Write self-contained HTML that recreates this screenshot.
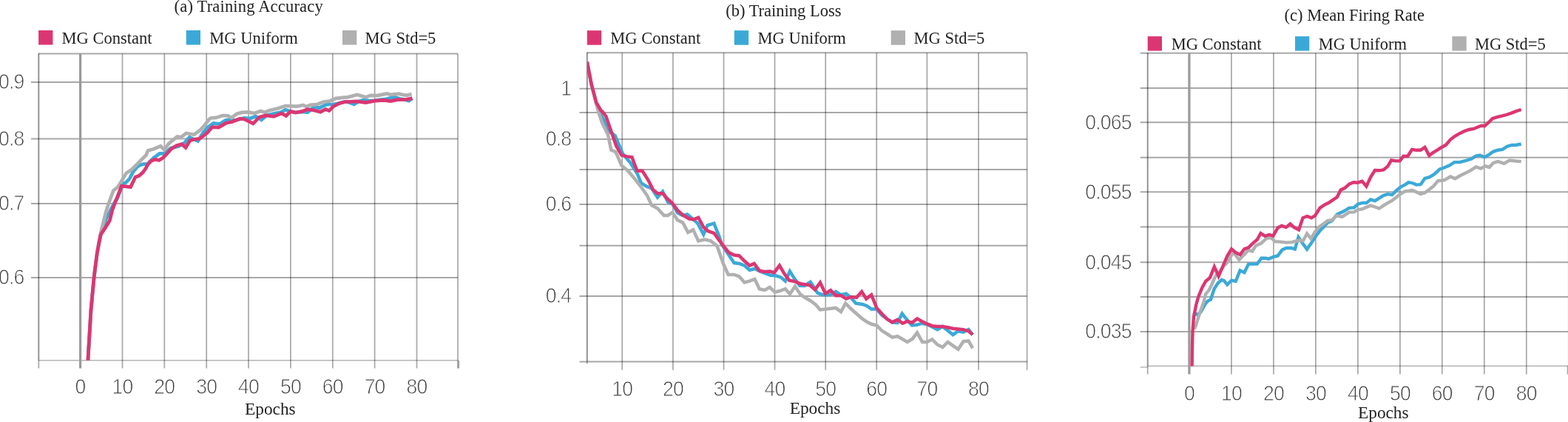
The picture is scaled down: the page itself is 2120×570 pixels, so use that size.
<!DOCTYPE html>
<html><head><meta charset="utf-8"><title>Training curves</title>
<style>
html,body{margin:0;padding:0;background:#fff;width:2120px;height:570px;overflow:hidden}
svg{display:block}
.tk{font-family:"Liberation Sans", sans-serif;font-size:30px;fill:#3c3c3c;letter-spacing:-0.9px;stroke:#fff;stroke-width:0.9px}
.ttl{font-family:"Liberation Serif", serif;font-size:22.5px;fill:#222}
.ep{font-family:"Liberation Serif", serif;font-size:23.3px;fill:#222}
.lg{font-family:"Liberation Serif", serif;font-size:22.5px;fill:#222}
</style></head><body>
<svg width="2120" height="570" viewBox="0 0 2120 570">
<defs><clipPath id="clip0"><rect x="52.3" y="52.400000000000006" width="566.7" height="434.4"/></clipPath><clipPath id="clip1"><rect x="793.8" y="51.2" width="594.8" height="437.40000000000003"/></clipPath><clipPath id="clip2"><rect x="1551.7" y="51.7" width="573.3" height="442.7"/></clipPath></defs>
<rect width="2120" height="570" fill="#fff"/>
<g>
<line x1="52.3" y1="72.4" x2="619.0" y2="72.4" stroke="rgba(0,0,0,0.34)" stroke-width="2"/>
<line x1="42.0" y1="110.9" x2="619.0" y2="110.9" stroke="rgba(0,0,0,0.34)" stroke-width="2"/>
<line x1="42.0" y1="187.5" x2="619.0" y2="187.5" stroke="rgba(0,0,0,0.34)" stroke-width="2"/>
<line x1="42.0" y1="275.0" x2="619.0" y2="275.0" stroke="rgba(0,0,0,0.34)" stroke-width="2"/>
<line x1="42.0" y1="375.0" x2="619.0" y2="375.0" stroke="rgba(0,0,0,0.34)" stroke-width="2"/>
<line x1="165.5" y1="72.4" x2="165.5" y2="497.5" stroke="rgba(0,0,0,0.33)" stroke-width="1.8"/>
<line x1="222.3" y1="72.4" x2="222.3" y2="497.5" stroke="rgba(0,0,0,0.33)" stroke-width="1.8"/>
<line x1="279.2" y1="72.4" x2="279.2" y2="497.5" stroke="rgba(0,0,0,0.33)" stroke-width="1.8"/>
<line x1="336.0" y1="72.4" x2="336.0" y2="497.5" stroke="rgba(0,0,0,0.33)" stroke-width="1.8"/>
<line x1="392.9" y1="72.4" x2="392.9" y2="497.5" stroke="rgba(0,0,0,0.33)" stroke-width="1.8"/>
<line x1="449.8" y1="72.4" x2="449.8" y2="497.5" stroke="rgba(0,0,0,0.33)" stroke-width="1.8"/>
<line x1="506.6" y1="72.4" x2="506.6" y2="497.5" stroke="rgba(0,0,0,0.33)" stroke-width="1.8"/>
<line x1="563.5" y1="72.4" x2="563.5" y2="497.5" stroke="rgba(0,0,0,0.33)" stroke-width="1.8"/>
<line x1="620.3" y1="486.8" x2="620.3" y2="497.5" stroke="rgba(0,0,0,0.33)" stroke-width="1.8"/>
<line x1="619.0" y1="72.4" x2="619.0" y2="497.5" stroke="rgba(0,0,0,0.33)" stroke-width="1.8"/>
<line x1="52.3" y1="486.8" x2="52.3" y2="497.5" stroke="rgba(0,0,0,0.33)" stroke-width="1.8"/>
<line x1="52.3" y1="486.8" x2="619.0" y2="486.8" stroke="rgba(0,0,0,0.29)" stroke-width="1.6"/>
<line x1="52.3" y1="71.9" x2="52.3" y2="486.8" stroke="rgba(0,0,0,0.44)" stroke-width="1.9"/>
<line x1="108.6" y1="72.4" x2="108.6" y2="497.5" stroke="#9a9a9a" stroke-width="3.2"/>
</g>
<polyline points="118.8,489.0 120.2,465.0 121.6,442.0 122.9,420.0 125.0,397.0 127.1,375.0 129.2,358.0 131.3,342.0 133.7,329.0 136.2,317.0 144.4,293.5 148.4,286.0 152.6,277.6 156.3,271.3 158.8,267.5 166.5,247.8 170.0,246.6 175.0,241.7 180.0,231.9 185.0,225.7 190.0,222.6 195.0,221.4 199.0,222.0 203.6,217.5 208.0,213.0 211.6,210.5 216.0,207.3 222.0,207.3 230.8,200.2 241.3,197.5 248.3,194.0 256.2,185.3 261.5,187.9 267.6,190.5 274.6,179.1 280.8,172.1 288.7,166.5 297.0,167.5 305.0,162.5 312.0,161.4 318.0,162.5 324.6,161.0 330.0,159.3 338.0,160.0 345.6,157.2 353.5,161.8 360.5,156.0 370.0,153.5 380.0,151.5 385.9,148.2 392.9,150.5 398.6,152.0 405.2,151.5 409.0,151.0 415.8,151.7 424.0,144.6 432.0,145.7 440.0,141.8 444.4,140.8 449.0,141.5 457.8,139.5 465.5,137.5 470.0,137.5 478.6,140.8 485.0,137.0 492.1,135.0 500.0,136.2 507.0,135.8 515.0,134.5 522.0,133.8 531.4,131.6 534.5,131.3 541.0,133.5 547.0,134.5 552.9,136.2 557.6,132.8" fill="none" stroke="#3ba9d7" stroke-width="4.7" stroke-linejoin="miter" stroke-miterlimit="3" stroke-linecap="butt" clip-path="url(#clip0)"/>
<polyline points="118.8,489.0 120.2,465.0 121.6,442.0 122.9,420.0 125.0,397.0 127.1,375.0 129.2,358.0 131.3,342.0 133.7,327.0 136.5,313.0 139.8,300.0 143.4,285.7 148.3,271.0 153.3,257.5 159.4,252.6 165.5,242.7 170.5,234.1 177.8,229.2 185.2,221.9 191.3,215.7 197.5,209.6 200.0,203.4 208.5,201.0 217.1,197.3 222.0,202.2 228.2,194.0 239.6,184.4 244.8,185.3 251.8,180.0 262.4,181.8 271.0,175.4 277.0,168.7 282.0,162.0 285.0,159.5 292.2,158.9 301.0,156.0 308.0,156.3 313.2,159.0 320.3,153.7 327.3,151.9 336.1,151.4 343.8,153.0 352.5,150.0 357.8,151.8 364.8,149.0 375.4,146.5 385.9,143.0 392.9,143.3 401.7,143.7 409.6,141.9 414.8,144.2 419.2,141.9 428.0,141.2 436.8,137.7 445.5,136.7 454.3,132.8 465.5,131.6 470.0,131.3 482.9,127.9 494.6,131.3 500.7,128.8 509.9,129.1 523.4,126.4 528.4,127.9 539.4,126.7 545.6,128.2 549.9,128.8 556.6,127.0" fill="none" stroke="#b0b0b0" stroke-width="4.7" stroke-linejoin="miter" stroke-miterlimit="3" stroke-linecap="butt" clip-path="url(#clip0)"/>
<polyline points="118.8,489.0 120.2,465.0 121.6,442.0 122.9,420.0 125.0,397.0 127.1,375.0 129.2,358.0 131.3,342.0 133.7,329.0 136.2,317.0 142.2,307.9 148.3,298.0 152.0,283.3 155.7,273.5 160.6,261.2 164.3,251.3 170.5,251.8 176.6,252.6 183.0,239.2 188.0,237.4 193.0,233.1 197.0,227.6 200.0,222.0 204.0,217.7 209.8,215.3 215.0,216.5 220.0,213.4 222.5,211.0 231.7,201.0 238.7,196.7 245.7,194.6 251.0,199.3 257.1,189.6 264.0,188.0 270.0,187.3 275.0,183.5 280.0,179.5 286.9,171.6 295.7,172.1 306.2,166.0 313.2,164.7 324.6,160.2 330.8,161.2 336.9,164.2 342.2,166.8 350.8,158.2 359.6,156.0 370.1,157.4 380.6,153.0 386.8,156.5 392.9,150.4 399.9,152.1 408.7,150.4 415.7,147.7 424.5,149.0 433.2,151.2 440.3,147.7 444.9,149.6 450.9,143.6 458.6,139.7 467.5,137.3 470.0,137.7 482.3,136.8 494.6,138.6 506.9,136.2 519.1,135.3 528.4,136.5 537.6,134.7 549.9,134.3 557.4,132.6" fill="none" stroke="#dc3672" stroke-width="4.7" stroke-linejoin="miter" stroke-miterlimit="3" stroke-linecap="butt" clip-path="url(#clip0)"/>
<text class="tk" transform="translate(32.5,120.2) scale(0.885,1)" text-anchor="end">0.9</text>
<text class="tk" transform="translate(32.5,196.8) scale(0.885,1)" text-anchor="end">0.8</text>
<text class="tk" transform="translate(32.5,284.3) scale(0.885,1)" text-anchor="end">0.7</text>
<text class="tk" transform="translate(32.5,384.3) scale(0.885,1)" text-anchor="end">0.6</text>
<text class="tk" transform="translate(108.6,531.8) scale(0.885,1)" text-anchor="middle">0</text>
<text class="tk" transform="translate(165.5,531.8) scale(0.885,1)" text-anchor="middle">10</text>
<text class="tk" transform="translate(222.3,531.8) scale(0.885,1)" text-anchor="middle">20</text>
<text class="tk" transform="translate(279.2,531.8) scale(0.885,1)" text-anchor="middle">30</text>
<text class="tk" transform="translate(336.0,531.8) scale(0.885,1)" text-anchor="middle">40</text>
<text class="tk" transform="translate(392.9,531.8) scale(0.885,1)" text-anchor="middle">50</text>
<text class="tk" transform="translate(449.8,531.8) scale(0.885,1)" text-anchor="middle">60</text>
<text class="tk" transform="translate(506.6,531.8) scale(0.885,1)" text-anchor="middle">70</text>
<text class="tk" transform="translate(563.5,531.8) scale(0.885,1)" text-anchor="middle">80</text>
<text class="ttl" x="235.6" y="15.8" style="letter-spacing:0.18px">(a) Training Accuracy</text>
<text class="ep" x="331.1" y="559.7">Epochs</text>
<rect x="52.1" y="41.0" width="19.3" height="19.5" fill="#dc3672"/>
<text class="lg" x="83.6" y="59.1">MG Constant</text>
<rect x="251.7" y="41.0" width="19.3" height="19.5" fill="#3ba9d7"/>
<text class="lg" x="283.3" y="59.1">MG Uniform</text>
<rect x="463.0" y="41.0" width="19.3" height="19.5" fill="#b0b0b0"/>
<text class="lg" x="493.5" y="59.1">MG Std=5</text>
<g>
<line x1="793.8" y1="71.2" x2="1388.6" y2="71.2" stroke="rgba(0,0,0,0.34)" stroke-width="2"/>
<line x1="783.5" y1="119.8" x2="1388.6" y2="119.8" stroke="rgba(0,0,0,0.34)" stroke-width="2"/>
<line x1="783.5" y1="152.0" x2="1388.6" y2="152.0" stroke="rgba(0,0,0,0.34)" stroke-width="2"/>
<line x1="783.5" y1="188.0" x2="1388.6" y2="188.0" stroke="rgba(0,0,0,0.34)" stroke-width="2"/>
<line x1="783.5" y1="228.9" x2="1388.6" y2="228.9" stroke="rgba(0,0,0,0.34)" stroke-width="2"/>
<line x1="783.5" y1="276.0" x2="1388.6" y2="276.0" stroke="rgba(0,0,0,0.34)" stroke-width="2"/>
<line x1="783.5" y1="331.8" x2="1388.6" y2="331.8" stroke="rgba(0,0,0,0.34)" stroke-width="2"/>
<line x1="783.5" y1="400.0" x2="1388.6" y2="400.0" stroke="rgba(0,0,0,0.34)" stroke-width="2"/>
<line x1="841.2" y1="71.2" x2="841.2" y2="499.8" stroke="rgba(0,0,0,0.33)" stroke-width="1.8"/>
<line x1="909.9" y1="71.2" x2="909.9" y2="499.8" stroke="rgba(0,0,0,0.33)" stroke-width="1.8"/>
<line x1="978.5" y1="71.2" x2="978.5" y2="499.8" stroke="rgba(0,0,0,0.33)" stroke-width="1.8"/>
<line x1="1047.5" y1="71.2" x2="1047.5" y2="499.8" stroke="rgba(0,0,0,0.33)" stroke-width="1.8"/>
<line x1="1116.2" y1="71.2" x2="1116.2" y2="499.8" stroke="rgba(0,0,0,0.33)" stroke-width="1.8"/>
<line x1="1185.2" y1="71.2" x2="1185.2" y2="499.8" stroke="rgba(0,0,0,0.33)" stroke-width="1.8"/>
<line x1="1253.4" y1="71.2" x2="1253.4" y2="499.8" stroke="rgba(0,0,0,0.33)" stroke-width="1.8"/>
<line x1="1323.0" y1="71.2" x2="1323.0" y2="499.8" stroke="rgba(0,0,0,0.33)" stroke-width="1.8"/>
<line x1="1388.6" y1="71.2" x2="1388.6" y2="499.8" stroke="rgba(0,0,0,0.33)" stroke-width="1.8"/>
<line x1="793.8" y1="488.6" x2="793.8" y2="491.5" stroke="rgba(0,0,0,0.33)" stroke-width="1.8"/>
<line x1="783.5" y1="488.6" x2="793.8" y2="488.6" stroke="rgba(0,0,0,0.35)" stroke-width="2"/>
<line x1="793.8" y1="488.6" x2="1388.6" y2="488.6" stroke="rgba(0,0,0,0.35)" stroke-width="2"/>
<line x1="793.8" y1="70.7" x2="793.8" y2="488.6" stroke="rgba(0,0,0,0.44)" stroke-width="1.9"/>
</g>
<polyline points="793.8,84.0 799.6,114.0 806.0,139.0 810.0,150.0 816.3,162.0 822.0,176.3 831.6,183.3 842.1,207.9 852.6,220.2 861.4,234.2 867.0,247.3 874.0,251.7 881.0,254.3 889.0,266.6 896.0,258.7 903.0,272.7 909.1,275.4 916.1,287.6 923.2,291.1 929.3,289.4 935.4,294.6 943.3,301.7 951.2,316.6 956.5,304.3 965.3,301.7 972.3,319.2 975.8,330.0 985.4,344.6 992.5,355.1 999.5,356.0 1006.5,358.6 1013.5,364.7 1020.5,363.0 1027.5,366.5 1034.6,369.1 1041.6,371.8 1048.6,372.3 1055.6,374.4 1061.8,379.6 1067.9,366.5 1074.0,376.1 1081.1,385.8 1087.9,386.0 1095.8,380.8 1105.4,395.7 1112.5,398.3 1122.1,398.3 1130.0,393.9 1137.0,398.3 1144.0,396.6 1150.2,401.8 1157.2,409.7 1166.0,411.0 1172.1,413.2 1178.2,417.6 1185.3,417.6 1192.3,425.5 1199.3,430.8 1206.3,435.3 1213.3,436.0 1219.7,423.6 1226.7,432.5 1233.0,439.5 1240.0,438.8 1246.3,436.7 1253.3,438.1 1260.4,441.6 1267.4,445.1 1274.4,440.9 1281.4,446.5 1288.4,452.1 1295.5,447.2 1302.5,448.6 1309.5,445.1 1315.1,452.1" fill="none" stroke="#3ba9d7" stroke-width="4.5" stroke-linejoin="miter" stroke-miterlimit="3" stroke-linecap="butt" clip-path="url(#clip1)"/>
<polyline points="793.8,84.0 799.6,114.0 806.0,139.0 808.8,150.0 814.0,165.8 821.9,181.6 826.3,202.6 832.5,205.3 840.4,223.7 849.1,230.7 857.9,241.2 864.9,250.0 874.9,263.9 881.0,277.1 889.0,281.5 897.7,291.1 903.0,291.1 909.1,286.8 916.1,297.3 923.2,300.8 930.2,313.9 937.2,310.4 944.2,325.4 953.0,323.6 960.9,325.4 968.8,331.5 970.5,334.9 977.5,355.1 984.6,370.9 992.5,370.9 999.5,373.5 1006.5,381.4 1013.5,379.6 1020.5,377.0 1026.7,390.2 1033.7,391.9 1040.7,388.1 1047.7,394.6 1054.7,392.8 1061.8,390.2 1067.9,397.2 1074.9,386.7 1081.9,397.2 1087.0,401.0 1095.8,406.2 1102.8,411.5 1108.9,418.5 1116.8,417.6 1123.0,416.8 1130.0,415.9 1137.0,421.1 1143.2,409.7 1150.2,416.8 1158.1,423.8 1165.1,429.9 1171.2,434.3 1178.2,437.8 1185.3,439.6 1192.3,446.6 1199.3,451.0 1206.3,455.6 1213.3,454.2 1219.7,457.7 1226.7,461.9 1233.7,457.7 1240.0,449.3 1247.0,461.9 1253.3,461.9 1260.4,458.4 1267.4,465.5 1274.4,469.0 1281.4,461.9 1288.4,466.9 1295.5,471.8 1302.5,461.2 1309.5,460.5 1315.1,470.4" fill="none" stroke="#b0b0b0" stroke-width="4.5" stroke-linejoin="miter" stroke-miterlimit="3" stroke-linecap="butt" clip-path="url(#clip1)"/>
<polyline points="793.8,83.7 799.6,113.6 806.3,138.7 812.3,149.0 815.0,151.3 819.3,157.0 826.3,177.2 833.3,197.4 840.4,209.6 847.4,211.4 854.4,212.3 861.4,230.7 868.4,230.7 876.7,243.8 882.8,256.1 889.0,261.3 896.0,261.3 902.1,268.3 909.1,274.5 916.1,284.1 923.2,290.3 931.9,295.5 938.1,296.4 944.2,293.8 951.2,306.9 957.4,312.2 965.3,314.8 972.3,324.5 977.5,331.4 985.4,341.1 992.5,344.6 999.5,345.4 1006.5,352.5 1013.5,358.6 1019.6,356.0 1026.7,365.6 1033.7,367.0 1040.7,366.5 1046.8,368.2 1053.9,358.6 1060.0,369.1 1067.0,378.8 1074.0,380.0 1081.9,383.2 1087.0,383.9 1094.9,385.2 1101.9,391.3 1108.9,381.7 1116.0,396.6 1123.0,392.2 1130.0,399.2 1137.0,399.2 1144.0,403.6 1151.1,401.0 1158.1,401.8 1165.1,393.9 1171.2,403.6 1178.2,398.3 1185.3,415.9 1192.3,423.8 1199.3,430.8 1206.3,435.3 1213.3,431.8 1220.4,436.7 1226.7,433.9 1233.0,436.0 1240.0,430.4 1246.3,433.9 1253.3,437.4 1260.4,440.2 1267.4,440.9 1274.4,440.9 1281.4,442.3 1288.4,443.7 1295.5,444.4 1302.5,445.1 1309.5,447.2 1315.1,452.1" fill="none" stroke="#dc3672" stroke-width="4.5" stroke-linejoin="miter" stroke-miterlimit="3" stroke-linecap="butt" clip-path="url(#clip1)"/>
<text class="tk" transform="translate(772.3,129.1) scale(0.885,1)" text-anchor="end">1</text>
<text class="tk" transform="translate(772.3,197.3) scale(0.885,1)" text-anchor="end">0.8</text>
<text class="tk" transform="translate(772.3,285.3) scale(0.885,1)" text-anchor="end">0.6</text>
<text class="tk" transform="translate(772.3,409.3) scale(0.885,1)" text-anchor="end">0.4</text>
<text class="tk" transform="translate(841.2,534.7) scale(0.885,1)" text-anchor="middle">10</text>
<text class="tk" transform="translate(909.9,534.7) scale(0.885,1)" text-anchor="middle">20</text>
<text class="tk" transform="translate(978.5,534.7) scale(0.885,1)" text-anchor="middle">30</text>
<text class="tk" transform="translate(1047.5,534.7) scale(0.885,1)" text-anchor="middle">40</text>
<text class="tk" transform="translate(1116.2,534.7) scale(0.885,1)" text-anchor="middle">50</text>
<text class="tk" transform="translate(1185.2,534.7) scale(0.885,1)" text-anchor="middle">60</text>
<text class="tk" transform="translate(1253.4,534.7) scale(0.885,1)" text-anchor="middle">70</text>
<text class="tk" transform="translate(1323.0,534.7) scale(0.885,1)" text-anchor="middle">80</text>
<text class="ttl" x="981.2" y="21.9">(b) Training Loss</text>
<text class="ep" x="1067.7" y="558.9">Epochs</text>
<rect x="793.8" y="41.2" width="19.3" height="19.5" fill="#dc3672"/>
<text class="lg" x="825.3" y="59.3">MG Constant</text>
<rect x="992.8" y="41.2" width="19.3" height="19.5" fill="#3ba9d7"/>
<text class="lg" x="1024.5" y="59.3">MG Uniform</text>
<rect x="1204.7" y="41.2" width="19.3" height="19.5" fill="#b0b0b0"/>
<text class="lg" x="1235.5" y="59.3">MG Std=5</text>
<g>
<line x1="1541.7" y1="71.7" x2="2125.0" y2="71.7" stroke="rgba(0,0,0,0.34)" stroke-width="2"/>
<line x1="1541.7" y1="119.0" x2="2125.0" y2="119.0" stroke="rgba(0,0,0,0.34)" stroke-width="2"/>
<line x1="1541.7" y1="165.3" x2="2125.0" y2="165.3" stroke="rgba(0,0,0,0.34)" stroke-width="2"/>
<line x1="1541.7" y1="212.8" x2="2125.0" y2="212.8" stroke="rgba(0,0,0,0.34)" stroke-width="2"/>
<line x1="1541.7" y1="259.2" x2="2125.0" y2="259.2" stroke="rgba(0,0,0,0.34)" stroke-width="2"/>
<line x1="1541.7" y1="306.5" x2="2125.0" y2="306.5" stroke="rgba(0,0,0,0.34)" stroke-width="2"/>
<line x1="1541.7" y1="354.3" x2="2125.0" y2="354.3" stroke="rgba(0,0,0,0.34)" stroke-width="2"/>
<line x1="1541.7" y1="401.1" x2="2125.0" y2="401.1" stroke="rgba(0,0,0,0.34)" stroke-width="2"/>
<line x1="1541.7" y1="448.0" x2="2125.0" y2="448.0" stroke="rgba(0,0,0,0.34)" stroke-width="2"/>
<line x1="1664.9" y1="71.7" x2="1664.9" y2="505.5" stroke="rgba(0,0,0,0.33)" stroke-width="1.8"/>
<line x1="1721.9" y1="71.7" x2="1721.9" y2="505.5" stroke="rgba(0,0,0,0.33)" stroke-width="1.8"/>
<line x1="1778.9" y1="71.7" x2="1778.9" y2="505.5" stroke="rgba(0,0,0,0.33)" stroke-width="1.8"/>
<line x1="1835.9" y1="71.7" x2="1835.9" y2="505.5" stroke="rgba(0,0,0,0.33)" stroke-width="1.8"/>
<line x1="1892.9" y1="71.7" x2="1892.9" y2="505.5" stroke="rgba(0,0,0,0.33)" stroke-width="1.8"/>
<line x1="1949.8" y1="71.7" x2="1949.8" y2="505.5" stroke="rgba(0,0,0,0.33)" stroke-width="1.8"/>
<line x1="2006.8" y1="71.7" x2="2006.8" y2="505.5" stroke="rgba(0,0,0,0.33)" stroke-width="1.8"/>
<line x1="2063.8" y1="71.7" x2="2063.8" y2="505.5" stroke="rgba(0,0,0,0.33)" stroke-width="1.8"/>
<line x1="2120.8" y1="71.7" x2="2120.8" y2="505.5" stroke="rgba(0,0,0,0.33)" stroke-width="1.8"/>
<line x1="1551.7" y1="494.4" x2="1551.7" y2="505.5" stroke="rgba(0,0,0,0.33)" stroke-width="1.8"/>
<line x1="2119.6" y1="494.4" x2="2119.6" y2="505.5" stroke="rgba(0,0,0,0.33)" stroke-width="1.8"/>
<line x1="1541.7" y1="495.9" x2="1551.7" y2="495.9" stroke="rgba(0,0,0,0.27)" stroke-width="1.6"/>
<line x1="1551.7" y1="494.4" x2="2125.0" y2="494.4" stroke="rgba(0,0,0,0.27)" stroke-width="1.6"/>
<line x1="1551.7" y1="71.2" x2="1551.7" y2="494.4" stroke="rgba(0,0,0,0.44)" stroke-width="1.9"/>
<line x1="1607.9" y1="71.7" x2="1607.9" y2="505.5" stroke="#9a9a9a" stroke-width="3.2"/>
</g>
<polyline points="1613.2,425.5 1617.3,424.0 1619.1,425.3 1623.4,421.6 1629.6,410.5 1632.6,406.9 1637.0,404.4 1639.4,397.0 1641.9,389.7 1646.8,382.3 1651.7,378.0 1655.0,379.2 1659.2,384.5 1665.0,378.8 1670.8,379.7 1676.6,365.2 1682.4,368.1 1688.1,356.6 1693.9,356.6 1699.7,356.6 1705.5,348.8 1711.3,348.8 1715.0,349.7 1721.3,347.1 1727.6,345.5 1733.4,337.6 1739.2,335.0 1745.5,335.0 1750.8,336.6 1755.5,320.3 1761.3,328.7 1767.1,336.6 1773.4,327.6 1779.2,318.7 1784.5,311.8 1789.7,306.6 1795.0,300.8 1801.0,298.1 1807.8,289.5 1816.5,285.6 1824.2,280.8 1830.9,280.4 1835.8,275.7 1841.6,274.1 1847.4,274.1 1853.2,269.5 1858.9,271.4 1864.7,267.6 1870.5,264.1 1876.3,262.2 1882.1,263.1 1887.9,257.4 1893.7,252.5 1899.5,249.6 1904.3,246.4 1909.1,247.1 1914.9,249.6 1920.7,249.2 1926.5,241.0 1932.3,239.4 1938.0,236.1 1943.8,231.3 1946.3,228.6 1952.6,226.5 1960.0,223.3 1966.3,219.1 1973.7,219.1 1982.1,217.0 1989.4,214.5 1995.7,210.7 2001.0,209.7 2007.3,212.4 2013.6,208.6 2018.9,204.8 2025.2,202.7 2031.5,201.9 2037.8,197.7 2044.1,196.0 2049.4,196.0 2056.7,194.5" fill="none" stroke="#3ba9d7" stroke-width="4.4" stroke-linejoin="miter" stroke-miterlimit="3" stroke-linecap="butt" clip-path="url(#clip2)"/>
<polyline points="1614.8,444.5 1616.7,440.0 1623.4,419.1 1627.7,406.9 1630.2,397.0 1634.5,392.1 1638.2,384.7 1641.9,376.1 1644.3,372.0 1648.6,368.1 1654.4,359.5 1660.2,353.7 1667.3,340.4 1675.3,350.8 1682.6,343.4 1687.6,337.9 1693.1,339.4 1698.0,331.8 1705.5,328.3 1711.3,322.8 1716.1,320.9 1720.3,322.4 1723.4,326.1 1730.8,326.6 1739.2,327.6 1746.6,327.1 1752.9,325.5 1758.2,324.5 1761.8,325.5 1767.1,315.5 1772.4,322.4 1778.2,312.9 1783.4,306.6 1788.7,302.9 1795.0,298.2 1801.0,297.2 1806.8,291.4 1814.5,292.9 1824.2,286.6 1830.9,286.4 1835.8,283.4 1841.6,282.4 1847.4,279.9 1853.2,277.6 1858.9,279.5 1864.7,281.5 1870.5,277.6 1876.3,274.1 1882.1,270.9 1887.9,266.4 1893.7,261.8 1899.5,258.3 1904.3,257.9 1909.1,256.8 1914.9,259.3 1920.7,262.2 1926.5,260.2 1932.3,256.0 1938.0,251.6 1944.2,244.4 1952.6,243.3 1961.0,238.5 1967.3,241.2 1974.7,237.0 1982.1,233.4 1988.4,230.1 1995.7,225.4 2002.1,227.6 2008.4,224.4 2013.6,225.9 2018.9,220.2 2025.2,218.1 2033.6,220.8 2041.0,216.6 2049.4,217.5 2056.7,218.1" fill="none" stroke="#b0b0b0" stroke-width="4.4" stroke-linejoin="miter" stroke-miterlimit="3" stroke-linecap="butt" clip-path="url(#clip2)"/>
<polyline points="1611.6,496.0 1611.8,480.0 1612.0,467.0 1612.5,447.8 1613.9,428.5 1617.3,411.2 1620.6,400.0 1625.4,388.4 1630.3,379.7 1636.0,374.9 1641.8,360.4 1647.6,373.0 1653.4,359.5 1659.2,346.0 1665.0,336.3 1670.8,341.1 1676.6,344.0 1682.4,336.3 1688.1,334.4 1693.9,328.6 1699.7,323.8 1704.5,315.1 1710.3,318.9 1716.1,317.0 1721.3,318.7 1727.6,307.6 1732.9,305.0 1738.7,307.1 1744.5,302.4 1749.7,307.1 1756.1,310.3 1761.5,294.3 1767.3,292.0 1773.1,294.3 1777.9,291.4 1784.6,280.8 1790.4,276.9 1796.2,274.0 1802.0,270.2 1807.8,266.3 1812.6,256.7 1818.4,253.8 1824.2,248.6 1830.0,246.2 1835.8,246.7 1841.6,244.8 1847.4,251.6 1853.2,239.0 1858.9,230.0 1864.7,230.3 1870.5,229.4 1876.3,224.6 1881.1,216.4 1886.9,217.4 1892.7,217.4 1897.5,211.0 1903.3,211.0 1909.1,201.8 1914.9,202.8 1920.7,202.8 1926.5,198.9 1932.3,210.1 1938.0,205.8 1943.8,202.4 1949.0,199.0 1954.7,196.0 1961.0,188.6 1967.3,183.8 1973.7,180.2 1980.0,177.1 1986.3,175.0 1992.6,173.9 1998.9,171.2 2003.1,169.7 2007.3,170.3 2012.6,165.5 2017.8,160.2 2024.1,158.1 2030.5,156.7 2036.8,155.0 2043.1,152.9 2049.4,150.4 2056.7,148.0" fill="none" stroke="#dc3672" stroke-width="4.4" stroke-linejoin="miter" stroke-miterlimit="3" stroke-linecap="butt" clip-path="url(#clip2)"/>
<text class="tk" transform="translate(1529.7,174.6) scale(0.885,1)" text-anchor="end">0.065</text>
<text class="tk" transform="translate(1529.7,268.5) scale(0.885,1)" text-anchor="end">0.055</text>
<text class="tk" transform="translate(1529.7,363.6) scale(0.885,1)" text-anchor="end">0.045</text>
<text class="tk" transform="translate(1529.7,457.3) scale(0.885,1)" text-anchor="end">0.035</text>
<text class="tk" transform="translate(1607.9,540.8) scale(0.885,1)" text-anchor="middle">0</text>
<text class="tk" transform="translate(1664.9,540.8) scale(0.885,1)" text-anchor="middle">10</text>
<text class="tk" transform="translate(1721.9,540.8) scale(0.885,1)" text-anchor="middle">20</text>
<text class="tk" transform="translate(1778.9,540.8) scale(0.885,1)" text-anchor="middle">30</text>
<text class="tk" transform="translate(1835.9,540.8) scale(0.885,1)" text-anchor="middle">40</text>
<text class="tk" transform="translate(1892.9,540.8) scale(0.885,1)" text-anchor="middle">50</text>
<text class="tk" transform="translate(1949.8,540.8) scale(0.885,1)" text-anchor="middle">60</text>
<text class="tk" transform="translate(2006.8,540.8) scale(0.885,1)" text-anchor="middle">70</text>
<text class="tk" transform="translate(2063.8,540.8) scale(0.885,1)" text-anchor="middle">80</text>
<text class="ttl" x="1736.6" y="28.0">(c) Mean Firing Rate</text>
<text class="ep" x="1836.0" y="564.6">Epochs</text>
<rect x="1551.7" y="49.1" width="19.3" height="19.5" fill="#dc3672"/>
<text class="lg" x="1583.7" y="67.2">MG Constant</text>
<rect x="1751.0" y="49.1" width="19.3" height="19.5" fill="#3ba9d7"/>
<text class="lg" x="1782.7" y="67.2">MG Uniform</text>
<rect x="1963.4" y="49.1" width="19.3" height="19.5" fill="#b0b0b0"/>
<text class="lg" x="1993.9" y="67.2">MG Std=5</text>
</svg>
</body></html>
